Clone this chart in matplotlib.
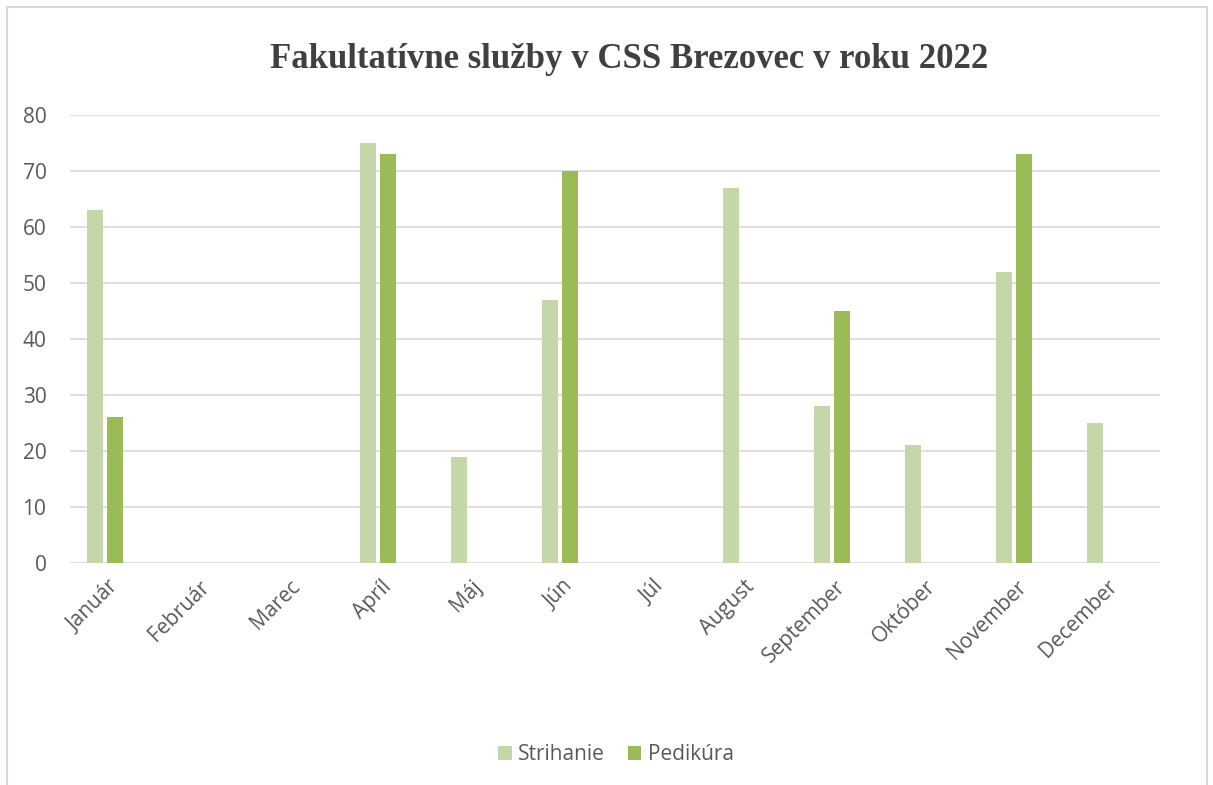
import numpy as np
import matplotlib.pyplot as plt
from matplotlib.patches import Rectangle

months = ['Január', 'Február', 'Marec', 'Apríl', 'Máj', 'Jún',
          'Júl', 'August', 'September', 'Október', 'November', 'December']
strihanie = [63, 0, 0, 75, 19, 47, 0, 67, 28, 21, 52, 25]
pedikura = [26, 0, 0, 73, 0, 70, 0, 0, 45, 0, 73, 0]

light = '#c5d7a9'
dark = '#9bbb59'
text_gray = '#595959'

W, H = 1213, 785
fig = plt.figure(figsize=(W / 100, H / 100), dpi=100)
ax = fig.add_axes([70 / W, 1 - 563 / H, 1090 / W, 448 / H])

# frame around the whole chart, bottom edge is cut off in the original
fig.patches.append(Rectangle((7 / W, -0.05), 1200 / W, 1.05 - 6.5 / H,
                             transform=fig.transFigure, fill=False,
                             edgecolor='#d9d9d9', linewidth=1.5))

x = np.arange(len(months))
bw = 0.176
ax.bar(x - 0.22, strihanie, bw, color=light, label='Strihanie', zorder=3)
ax.bar(x, pedikura, bw, color=dark, label='Pedikúra', zorder=3)

ax.set_xlim(-0.5, len(months) - 0.5)
ax.set_ylim(0, 80)
ax.set_yticks(range(0, 81, 10))
ax.grid(axis='y', color='#d9d9d9', linewidth=1.2, zorder=0)
for s in ax.spines.values():
    s.set_visible(False)
ax.tick_params(length=0)
ax.tick_params(axis='y', pad=17, labelsize=15, labelcolor=text_gray)

ax.set_xticks(x)
ax.set_xticklabels(months, rotation=45, ha='right', va='center',
                   rotation_mode='anchor', fontsize=15, color=text_gray)
for lbl in ax.get_xticklabels():
    lbl.set_y(-0.035)
for lbl in ax.get_yticklabels() + ax.get_xticklabels():
    lbl.set_fontfamily('Open Sans')

fig.text(629 / W, 1 - 60 / H, 'Fakultatívne služby v CSS Brezovec v roku 2022',
         ha='center', va='center', fontsize=25, fontweight='bold',
         family='Liberation Serif', color='#404040')

leg = fig.legend(loc='center', bbox_to_anchor=(616 / W, 1 - 755 / H), ncol=2,
                 frameon=False, handlelength=0.65, handleheight=0.65,
                 handletextpad=0.3, columnspacing=1.1,
                 prop={'family': 'Open Sans', 'size': 15})
for t in leg.get_texts():
    t.set_color(text_gray)

fig.savefig('out.png', dpi=100)
